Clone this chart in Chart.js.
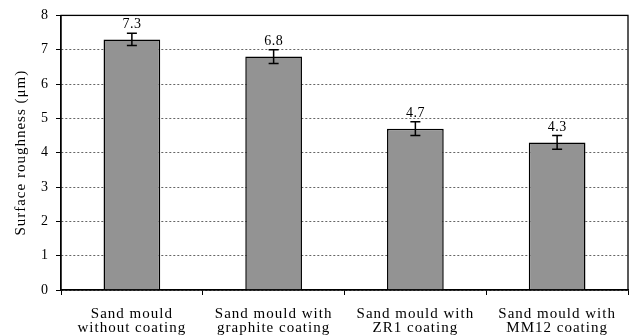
<!DOCTYPE html>
<html>
<head>
<meta charset="utf-8">
<script src="https://cdn.jsdelivr.net/npm/chart.js@4"></script>
<style>
  html, body { margin: 0; padding: 0; background: #fff; }
  #wrap { width: 629px; height: 336px; position: relative; }
</style>
</head>
<body>
<div id="wrap"><canvas id="c"></canvas></div>
<script>
// Surface roughness of castings for different mould treatments
const categories = [
  ["Sand mould", "without coating"],
  ["Sand mould with", "graphite coating"],
  ["Sand mould with", "ZR1 coating"],
  ["Sand mould with", "MM12 coating"]
];
const roughness = [7.3, 6.8, 4.7, 4.3];
const roughnessError = [0.18, 0.2, 0.2, 0.2];
const yTicks = [0, 1, 2, 3, 4, 5, 6, 7, 8];

const SERIF = '"Liberation Serif", "DejaVu Serif", serif';

// Wide letter spacing for all chart text
const spacingPlugin = {
  id: 'spacing',
  beforeDraw(chart) { chart.ctx.letterSpacing = '1px'; }
};

// Draws ± error bars and the value label above each bar
const errorBarPlugin = {
  id: 'errorBars',
  afterDatasetsDraw(chart) {
    const ctx = chart.ctx;
    const meta = chart.getDatasetMeta(0);
    const y = chart.scales.y;
    ctx.save();
    meta.data.forEach((bar, i) => {
      const v = roughness[i];
      const e = roughnessError[i];
      const yTop = y.getPixelForValue(v + e);
      const yBot = y.getPixelForValue(v - e);
      const x = bar.x;
      ctx.strokeStyle = '#000';
      ctx.lineWidth = 1.5;
      ctx.beginPath();
      ctx.moveTo(x, yTop); ctx.lineTo(x, yBot);
      ctx.moveTo(x - 5, yTop); ctx.lineTo(x + 5, yTop);
      ctx.moveTo(x - 5, yBot); ctx.lineTo(x + 5, yBot);
      ctx.stroke();
      ctx.fillStyle = '#000';
      ctx.letterSpacing = '0.5px';
      ctx.font = '14px ' + SERIF;
      ctx.textAlign = 'center';
      ctx.textBaseline = 'alphabetic';
      ctx.fillText(v.toFixed(1), x, yTop - 5);
    });
    ctx.restore();
  }
};

// Solid frame around the plotting area
const framePlugin = {
  id: 'frame',
  afterDraw(chart) {
    const a = chart.chartArea;
    const ctx = chart.ctx;
    ctx.save();
    ctx.strokeStyle = '#000';
    ctx.lineWidth = 1.3;
    ctx.strokeRect(a.left, a.top, a.right - a.left, a.bottom - a.top);
    ctx.restore();
  }
};

new Chart(document.getElementById('c'), {
  type: 'bar',
  data: {
    labels: categories,
    datasets: [{
      data: roughness,
      backgroundColor: '#939393',
      borderColor: '#000',
      borderWidth: 1.5,
      barPercentage: 0.5,
      categoryPercentage: 0.8
    }]
  },
  options: {
    responsive: true,
    maintainAspectRatio: false,
    animation: false,
    layout: { padding: { top: 15, right: 1, left: 0, bottom: 0 } },
    plugins: {
      legend: { display: false },
      tooltip: { enabled: false }
    },
    scales: {
      x: {
        grid: {
          offset: true,
          drawOnChartArea: false,
          drawTicks: true,
          tickLength: 5,
          tickColor: '#000',
          tickWidth: 1
        },
        border: { color: '#000', width: 1.3 },
        ticks: {
          color: '#000',
          font: { family: SERIF, size: 15, lineHeight: 0.95 },
          padding: 12,
          maxRotation: 0,
          autoSkip: false
        },
        afterFit(s) { s.height = 46; }
      },
      y: {
        min: 0,
        max: 8,
        afterBuildTicks(s) { s.ticks = yTicks.map(v => ({ value: v })); },
        grid: {
          color: '#666',
          lineWidth: 1,
          tickColor: '#000',
          tickLength: 5,
          tickBorderDash: []
        },
        border: { color: '#000', width: 1.3, dash: [2, 2] },
        ticks: {
          color: '#000',
          font: { family: SERIF, size: 14 },
          padding: 7
        },
        title: {
          display: true,
          text: 'Surface roughness (μm)',
          color: '#000',
          font: { family: SERIF, size: 15 },
          padding: { top: 12, bottom: 0 }
        },
        afterFit(s) { s.width = 61; }
      }
    }
  },
  plugins: [spacingPlugin, errorBarPlugin, framePlugin]
});
</script>
</body>
</html>
